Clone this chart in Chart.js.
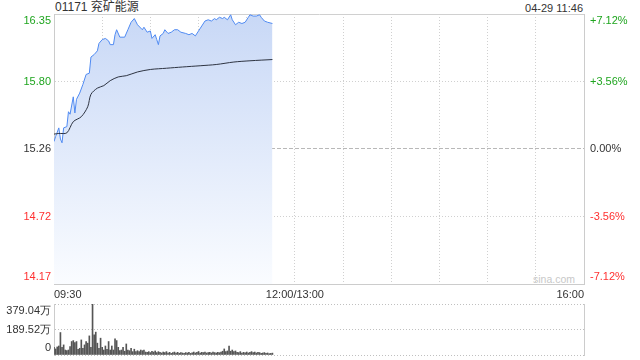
<!DOCTYPE html>
<html><head><meta charset="utf-8">
<script src="https://cdn.jsdelivr.net/npm/chart.js@4"></script>
<style>
html,body{margin:0;padding:0;background:#fff;width:640px;height:360px;overflow:hidden;font-family:"Liberation Sans",Arial,"Noto Sans CJK SC",sans-serif;}
#c1{position:absolute;left:0;top:0;}
#c2{position:absolute;left:0;top:300px;}
.t{position:absolute;color:#333;white-space:nowrap;line-height:14px;}
</style></head><body>
<div class="t" style="left:55px;top:0px;font-size:12px;">01171 兖矿能源</div>
<div class="t" style="right:57px;top:1px;font-size:11px;">04-29 11:46</div>
<div class="t" style="left:533px;top:272px;font-size:10.5px;color:#c8c8c8;">sina.com</div>
<canvas id="c1" width="640" height="300"></canvas>
<canvas id="c2" width="640" height="60"></canvas>
<script>
// ---- data ----
const prevClose = 15.26;
const priceLabels = ['14.17','14.72','15.26','15.80','16.35'];
const pctLabels = ['-7.12%','-3.56%','0.00%','+3.56%','+7.12%'];
const pctSteps = [-0.0712,-0.0356,0,0.0356,0.0712];
const xLabelPos = [0,150,330];
const xLabelText = ['09:30','12:00/13:00','16:00'];
const xGridMinutes = [0,30,60,90,120,150,180,210,240,270,300,330];

const priceTimes = [0,1,3,4,5,6,8,9,10,12,13,14,16,18,20,22,23,25,27,28,30,32,34,35,37,38,39,41,44,46,48,50,52,55,56,58,60,61,63,64,65,66,68,69,71,73,75,77,79,82,84,86,88,90,92,94,96,98,100,101,103,105,106,108,110,111,113,115,117,119,121,122,124,126,128,129,131,133,136];
const prices = [15.32,15.36,15.43,15.34,15.31,15.43,15.44,15.56,15.54,15.68,15.55,15.66,15.71,15.78,15.86,15.87,16.00,16.02,16.05,16.11,16.14,16.15,16.13,16.10,16.10,16.18,16.22,16.16,16.16,16.22,16.28,16.31,16.26,16.22,16.24,16.20,16.21,16.15,16.18,16.14,16.10,16.17,16.19,16.22,16.19,16.20,16.22,16.22,16.20,16.19,16.18,16.19,16.17,16.21,16.25,16.29,16.30,16.29,16.31,16.30,16.32,16.31,16.32,16.30,16.34,16.30,16.26,16.28,16.27,16.28,16.32,16.34,16.33,16.33,16.34,16.32,16.29,16.28,16.27];

const avgTimes = [0,3,8,12,17,21,23,27,31,35,40,45,52,60,70,80,91,101,112,122,136];
const avgPrices = [15.38,15.385,15.39,15.48,15.52,15.60,15.70,15.75,15.77,15.81,15.84,15.85,15.88,15.90,15.91,15.92,15.93,15.94,15.96,15.97,15.98];

const volTickVals = [0,189.52,379.04];
const volLabels = ['0','189.52万','379.04万'];
const volumes = [57,45,60,67,167,57,75,37,32,37,62,100,107,92,100,43,50,112,50,75,100,88,142,57,379,150,170,88,50,125,57,37,67,43,100,37,67,37,120,107,57,32,37,57,28,82,37,32,50,25,43,25,32,25,37,32,37,22,
20,25,18,28,22,30,18,25,20,15,22,18,25,15,20,12,18,22,15,20,13,18,15,12,18,15,20,12,16,22,15,20,26,15,20,18,22,15,18,20,15,22,18,15,20,17,22,28,45,25,30,67,28,37,25,30,20,18,25,15,20,17,22,15,20,25,18,22,15,20,18,12,15,18,12,15,10,12,14];

// ---- chart ----
const FONT = '"Liberation Sans", Arial, sans-serif';
Chart.defaults.font.family = FONT;
Chart.defaults.font.size = 11;
const GREEN = '#1fa51f', RED = '#ff3030', DARK = '#333';
const tickColors = [RED, RED, DARK, GREEN, GREEN];
const yVals = pctSteps.map(p => prevClose * (1 + p));
const yMin = yVals[0], yMax = yVals[yVals.length - 1];

function edgeLabel(text, i, n) {
  if (i === n - 1) return ['', text];
  if (i === 0) return [text, ''];
  return text;
}
function noPad(s) { s.paddingTop = 0; s.paddingBottom = 0; s.paddingLeft = 0; s.paddingRight = 0; }

new Chart(document.getElementById('c1'), {
  type: 'line',
  data: {
    datasets: [
      {
        order: 1,
        data: priceTimes.map((t, i) => ({x: t, y: prices[i]})),
        borderColor: '#4f8af2',
        borderWidth: 1,
        pointRadius: 0,
        tension: 0,
        fill: 'start',
        backgroundColor: (ctx) => {
          const ca = ctx.chart.chartArea;
          if (!ca) return 'rgba(0,0,0,0)';
          const g = ctx.chart.ctx.createLinearGradient(0, ca.top, 0, ca.bottom);
          g.addColorStop(0, 'rgb(200,216,246)');
          g.addColorStop(1, 'rgb(250,252,255)');
          return g;
        }
      },
      {
        order: 0,
        data: avgTimes.map((t, i) => ({x: t, y: avgPrices[i]})),
        borderColor: '#2e3442',
        borderWidth: 1,
        pointRadius: 0,
        tension: 0.3,
        fill: false
      }
    ]
  },
  options: {
    responsive: false,
    animation: false,
    layout: {padding: {top: 14, left: 0, right: 0, bottom: 0}},
    plugins: {legend: {display: false}, tooltip: {enabled: false}},
    scales: {
      x: {
        type: 'linear', min: 0, max: 330,
        afterBuildTicks: s => { s.ticks = xGridMinutes.map(v => ({value: v})); },
        afterFit: s => { s.height = 16; noPad(s); },
        ticks: {
          autoSkip: false, maxRotation: 0, align: 'inner', padding: 4, color: DARK,
          callback: v => { const k = xLabelPos.indexOf(v); return k >= 0 ? xLabelText[k] : ''; }
        },
        grid: {color: '#d0d0d0', drawTicks: false},
        border: {color: '#cccccc', dash: c => (c.index === 0 || c.index === xGridMinutes.length - 1) ? [] : [1, 2]}
      },
      y: {
        position: 'left', min: yMin, max: yMax,
        afterBuildTicks: s => { s.ticks = yVals.map(v => ({value: v})); },
        afterFit: s => { s.width = 54; noPad(s); },
        ticks: {
          autoSkip: false, padding: 3,
          color: c => tickColors[c.index],
          callback: (v, i) => edgeLabel(priceLabels[i], i, priceLabels.length)
        },
        grid: {color: c => c.index === 2 ? '#b8b8b8' : '#d0d0d0', drawTicks: false},
        border: {color: '#cccccc', dash: c => c.index === 4 ? [] : (c.index === 2 ? [4, 2] : [1, 2])}
      },
      y2: {
        position: 'right', min: yMin, max: yMax,
        afterBuildTicks: s => { s.ticks = yVals.map(v => ({value: v})); },
        afterFit: s => { s.width = 56; noPad(s); },
        ticks: {
          autoSkip: false, padding: 6,
          color: c => tickColors[c.index],
          callback: (v, i) => edgeLabel(pctLabels[i], i, pctLabels.length)
        },
        grid: {drawOnChartArea: false, drawTicks: false},
        border: {color: '#cccccc'}
      }
    }
  }
});

new Chart(document.getElementById('c2'), {
  type: 'bar',
  data: {
    datasets: [{
      data: volumes.map((v, i) => ({x: i, y: v})),
      backgroundColor: '#555555',
      barThickness: 1
    }]
  },
  options: {
    responsive: false,
    animation: false,
    layout: {padding: {top: 4, left: 0, right: 56, bottom: 5}},
    plugins: {legend: {display: false}, tooltip: {enabled: false}},
    scales: {
      x: {type: 'linear', min: 0, max: 330, display: false, offset: false, grid: {offset: false}},
      y: {
        position: 'left', min: 0, max: volTickVals[volTickVals.length - 1],
        afterBuildTicks: s => { s.ticks = volTickVals.map(v => ({value: v})); },
        afterFit: s => { s.width = 54; noPad(s); },
        ticks: {
          autoSkip: false, padding: 3, color: DARK,
          callback: (v, i) => edgeLabel(volLabels[i], i, volLabels.length)
        },
        grid: {color: '#c0c0c0', drawTicks: false},
        border: {color: '#cccccc', dash: [1, 2]}
      },
      y2: {
        position: 'right', min: 0, max: volTickVals[volTickVals.length - 1],
        afterFit: s => { s.width = 0; noPad(s); },
        ticks: {display: false},
        grid: {drawOnChartArea: false, drawTicks: false},
        border: {color: '#cccccc'}
      }
    }
  }
});
</script>
</body></html>
